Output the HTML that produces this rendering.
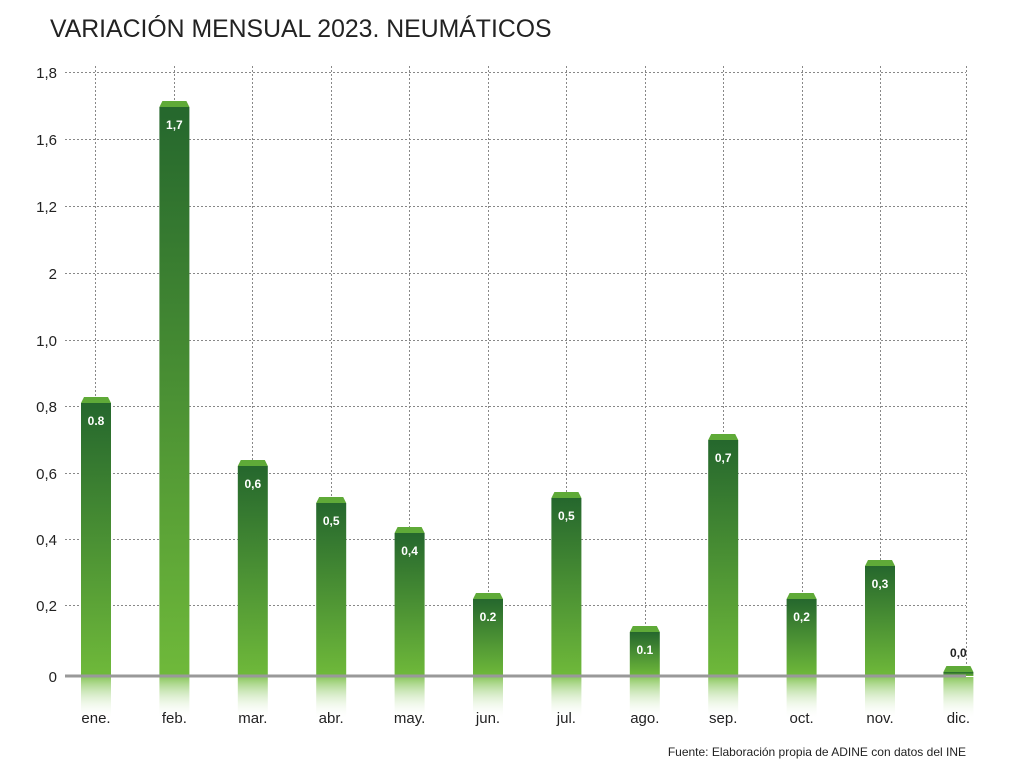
<!DOCTYPE html>
<html><head><meta charset="utf-8"><style>
body{margin:0;background:#fff;}
svg{display:block;font-family:"Liberation Sans",sans-serif;}
</style></head><body>
<svg width="1024" height="783" viewBox="0 0 1024 783">
<defs>
<linearGradient id="g" x1="0" y1="0" x2="0" y2="1"><stop offset="0" stop-color="#25672d"/><stop offset="1" stop-color="#6fb93a"/></linearGradient>
<linearGradient id="r" x1="0" y1="0" x2="0" y2="1"><stop offset="0" stop-color="#8cc860"/><stop offset="1" stop-color="#ffffff" stop-opacity="0"/></linearGradient>
</defs>
<text x="50" y="37" font-size="24.8" fill="#222">VARIACIÓN MENSUAL 2023. NEUMÁTICOS</text>
<g stroke="#888" stroke-width="1" stroke-dasharray="2,2">
<line x1="65" y1="72.5" x2="966" y2="72.5"/><line x1="65" y1="139.5" x2="966" y2="139.5"/><line x1="65" y1="206.5" x2="966" y2="206.5"/><line x1="65" y1="273.5" x2="966" y2="273.5"/><line x1="65" y1="340.5" x2="966" y2="340.5"/><line x1="65" y1="406.5" x2="966" y2="406.5"/><line x1="65" y1="473.5" x2="966" y2="473.5"/><line x1="65" y1="539.5" x2="966" y2="539.5"/><line x1="65" y1="605.5" x2="966" y2="605.5"/>
<line x1="95.5" y1="66" x2="95.5" y2="676"/><line x1="174.5" y1="66" x2="174.5" y2="676"/><line x1="252.5" y1="66" x2="252.5" y2="676"/><line x1="331.5" y1="66" x2="331.5" y2="676"/><line x1="409.5" y1="66" x2="409.5" y2="676"/><line x1="488.5" y1="66" x2="488.5" y2="676"/><line x1="566.5" y1="66" x2="566.5" y2="676"/><line x1="645.5" y1="66" x2="645.5" y2="676"/><line x1="723.5" y1="66" x2="723.5" y2="676"/><line x1="802.5" y1="66" x2="802.5" y2="676"/><line x1="880.5" y1="66" x2="880.5" y2="676"/><line x1="966.5" y1="66" x2="966.5" y2="676"/>
</g>
<g font-size="15" fill="#222" text-anchor="end">
<text x="57" y="78">1,8</text><text x="57" y="145">1,6</text><text x="57" y="212">1,2</text><text x="57" y="279">2</text><text x="57" y="346">1,0</text><text x="57" y="412">0,8</text><text x="57" y="479">0,6</text><text x="57" y="545">0,4</text><text x="57" y="611">0,2</text><text x="57" y="682">0</text>
</g>
<g fill="url(#g)">
<rect x="81" y="403" width="30" height="273"/>
<rect x="159.4" y="107" width="30" height="569"/>
<rect x="237.8" y="466" width="30" height="210"/>
<rect x="316.2" y="503" width="30" height="173"/>
<rect x="394.6" y="533" width="30" height="143"/>
<rect x="473" y="599" width="30" height="77"/>
<rect x="551.4" y="498" width="30" height="178"/>
<rect x="629.8" y="632" width="30" height="44"/>
<rect x="708.2" y="440" width="30" height="236"/>
<rect x="786.6" y="599" width="30" height="77"/>
<rect x="865" y="566" width="30" height="110"/>
<rect x="943.4" y="672" width="30" height="4"/>
</g>
<g fill="#5faa38">
<polygon points="84,397 108,397 111,403 81,403"/>
<polygon points="162.4,101 186.4,101 189.4,107 159.4,107"/>
<polygon points="240.8,460 264.8,460 267.8,466 237.8,466"/>
<polygon points="319.2,497 343.2,497 346.2,503 316.2,503"/>
<polygon points="397.6,527 421.6,527 424.6,533 394.6,533"/>
<polygon points="476,593 500,593 503,599 473,599"/>
<polygon points="554.4,492 578.4,492 581.4,498 551.4,498"/>
<polygon points="632.8,626 656.8,626 659.8,632 629.8,632"/>
<polygon points="711.2,434 735.2,434 738.2,440 708.2,440"/>
<polygon points="789.6,593 813.6,593 816.6,599 786.6,599"/>
<polygon points="868,560 892,560 895,566 865,566"/>
<polygon points="946.4,666 970.4,666 973.4,672 943.4,672"/>
</g>
<g fill="url(#r)">
<rect x="81" y="677" width="30" height="42"/><rect x="159.4" y="677" width="30" height="42"/><rect x="237.8" y="677" width="30" height="42"/><rect x="316.2" y="677" width="30" height="42"/><rect x="394.6" y="677" width="30" height="42"/><rect x="473" y="677" width="30" height="42"/><rect x="551.4" y="677" width="30" height="42"/><rect x="629.8" y="677" width="30" height="42"/><rect x="708.2" y="677" width="30" height="42"/><rect x="786.6" y="677" width="30" height="42"/><rect x="865" y="677" width="30" height="42"/><rect x="943.4" y="677" width="30" height="42"/>
</g>
<line x1="65" y1="676" x2="966" y2="676" stroke="#999" stroke-width="3"/>
<g font-size="12" font-weight="bold" fill="#fff" text-anchor="middle">
<text x="96" y="425">0.8</text><text x="174.4" y="129">1,7</text><text x="252.8" y="488">0,6</text><text x="331.2" y="525">0,5</text><text x="409.6" y="555">0,4</text><text x="488" y="621">0.2</text><text x="566.4" y="520">0,5</text><text x="644.8" y="654">0.1</text><text x="723.2" y="462">0,7</text><text x="801.6" y="621">0,2</text><text x="880" y="588">0,3</text>
<text x="958.4" y="657" fill="#222">0,0</text>
</g>
<g font-size="15" fill="#222" text-anchor="middle">
<text x="96" y="723">ene.</text><text x="174.4" y="723">feb.</text><text x="252.8" y="723">mar.</text><text x="331.2" y="723">abr.</text><text x="409.6" y="723">may.</text><text x="488" y="723">jun.</text><text x="566.4" y="723">jul.</text><text x="644.8" y="723">ago.</text><text x="723.2" y="723">sep.</text><text x="801.6" y="723">oct.</text><text x="880" y="723">nov.</text><text x="958.4" y="723">dic.</text>
</g>
<text x="966" y="756" font-size="12" fill="#222" text-anchor="end">Fuente: Elaboración propia de ADINE con datos del INE</text>
</svg>
</body></html>
